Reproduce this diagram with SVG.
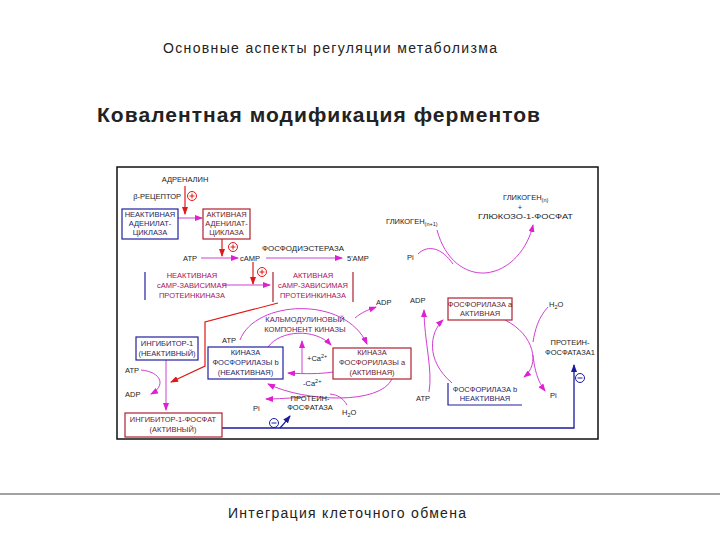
<svg xmlns="http://www.w3.org/2000/svg" width="720" height="540" viewBox="0 0 720 540">
<defs>
<marker id="am" markerWidth="8" markerHeight="6" refX="7" refY="3" orient="auto" markerUnits="userSpaceOnUse"><path d="M0,0 L8,3 L0,6 Z" fill="#e020d0"/></marker>
<marker id="ar" markerWidth="8" markerHeight="6" refX="7" refY="3" orient="auto" markerUnits="userSpaceOnUse"><path d="M0,0 L8,3 L0,6 Z" fill="#e01818"/></marker>
<marker id="ab" markerWidth="8" markerHeight="6" refX="7" refY="3" orient="auto" markerUnits="userSpaceOnUse"><path d="M0,0 L8,3 L0,6 Z" fill="#1a1aa0"/></marker>
</defs>
<style>
.t{font-family:"Liberation Sans",Arial,sans-serif;font-size:7.5px;fill:#222}
.c{text-anchor:middle}
.bt{fill:#25256a}
.rt{fill:#6a1a2a}
.pk{fill:#a8105a}
.cm{fill:#5a1a5a}
.bb{fill:#fff;stroke:#2020a0;stroke-width:1.2}
.rb{fill:#fff;stroke:#b02030;stroke-width:1.2}
.m{fill:none;stroke:#d040d0;stroke-width:1;marker-end:url(#am)}
.mn{fill:none;stroke:#d040d0;stroke-width:1}
.r{fill:none;stroke:#e01818;stroke-width:1.2}
.b{fill:none;stroke:#1a1aa0;stroke-width:1.3}
.title{font-family:"Liberation Sans",Arial,sans-serif;fill:#222}
</style>
<rect width="720" height="540" fill="#fff"/>
<text class="title" x="163" y="53" font-size="14" textLength="334">Основные аспекты регуляции метаболизма</text>
<text class="title" x="97" y="122" font-size="21" font-weight="bold" textLength="443">Ковалентная модификация ферментов</text>
<line x1="0" y1="494" x2="720" y2="494" stroke="#444" stroke-width="1"/>
<text class="title" x="228" y="518" font-size="14" textLength="238">Интеграция клеточного обмена</text>

<rect x="117" y="167" width="481" height="272" fill="#fff" stroke="#111" stroke-width="1.5"/>

<g id="connectors">
<path class="r" d="M185,186 V214" marker-end="url(#ar)"/>
<path class="m" d="M178,218 H202"/>
<path class="r" d="M222,239 V256" marker-end="url(#ar)"/>
<path class="m" d="M201,258 H238"/>
<path class="m" d="M266,258 H342"/>
<path class="r" d="M253,262 V284" marker-end="url(#ar)"/>
<path class="m" d="M222,285 H270"/>
<path class="r" d="M278,303 L205,322 V366 L171,382" marker-end="url(#ar)"/>
<path class="m" d="M437,230 C445,260 465,274 485,273 C510,271 528,248 533,225"/>
<path class="mn" d="M418,254 C428,244 442,248 453,264"/>
<path class="m" d="M240,340 C255,300 345,295 367,344"/>
<path class="m" d="M355,318 C362,312 368,310 376,307"/>
<path class="m" d="M268,347 C280,330 315,328 331,345"/>
<path class="m" d="M302,373 V341"/>
<path class="m" d="M333,372 C320,374 305,374 288,373"/>
<path class="m" d="M392,379 C380,405 305,402 268,384"/>
<path class="m" d="M305,397 C290,398 278,399 266,399"/>
<path class="mn" d="M347,405 C343,398 338,395 330,394"/>
<path class="m" d="M141,370 C162,372 166,386 151,394"/>
<path class="m" d="M166,360 V410"/>
<path class="b" d="M222,428 H574 V365" marker-end="url(#ab)"/>
<path class="b" d="M280,428 C284,424 286,421 290,416" marker-end="url(#ab)"/>
<path class="m" d="M452,383 C425,360 430,332 443,320"/>
<path class="m" d="M429,392 C433,370 424,340 424,310"/>
<path class="m" d="M505,320 C535,335 540,365 524,377"/>
<path class="mn" d="M548,307 C538,318 535,330 533,342"/>
<path class="m" d="M533,355 C535,375 540,384 545,391"/>
</g>

<g id="adrenalin"><text class="t c" x="185" y="182">АДРЕНАЛИН</text></g>
<g id="receptor"><text class="t" x="181" y="199" text-anchor="end">β-РЕЦЕПТОР</text>
<circle cx="192" cy="196" r="4.5" fill="none" stroke="#e01818"/><path d="M189.5,196 H194.5 M192,193.5 V198.5" stroke="#e01818"/></g>
<g id="ac-inactive"><rect class="bb" x="122" y="209" width="56" height="30"/>
<text class="t c bt" x="150" y="217">НЕАКТИВНАЯ</text><text class="t c bt" x="150" y="226">АДЕНИЛАТ-</text><text class="t c bt" x="150" y="235">ЦИКЛАЗА</text></g>
<g id="ac-active"><rect class="rb" x="203" y="209" width="47" height="30"/>
<text class="t c rt" x="226.5" y="217">АКТИВНАЯ</text><text class="t c rt" x="226.5" y="226">АДЕНИЛАТ-</text><text class="t c rt" x="226.5" y="235">ЦИКЛАЗА</text></g>
<g id="plus1"><circle cx="233" cy="247" r="4.5" fill="none" stroke="#e01818"/><path d="M230.5,247 H235.5 M233,244.5 V249.5" stroke="#e01818"/></g>
<g id="atp1"><text class="t" x="183" y="261">ATP</text></g>
<g id="camp"><text class="t" x="240" y="261">cAMP</text></g>
<g id="pde"><text class="t" x="262" y="251" textLength="82" lengthAdjust="spacingAndGlyphs">ФОСФОДИЭСТЕРАЗА</text></g>
<g id="amp"><text class="t" x="347" y="261">5'AMP</text></g>
<g id="plus2"><circle cx="262" cy="272" r="4.5" fill="none" stroke="#e01818"/><path d="M259.5,272 H264.5 M262,269.5 V274.5" stroke="#e01818"/></g>
<g id="pk-inactive"><line x1="145" y1="272" x2="145" y2="300" stroke="#2020a0" stroke-width="1.2"/>
<text class="t c pk" x="192" y="278">НЕАКТИВНАЯ</text><text class="t c pk" x="192" y="288">cAMP-ЗАВИСИМАЯ</text><text class="t c pk" x="192" y="298">ПРОТЕИНКИНАЗА</text></g>
<g id="pk-active"><path d="M273,272 V302 M353,272 V302" stroke="#b02030" stroke-width="1.2"/>
<text class="t c pk" x="313" y="278">АКТИВНАЯ</text><text class="t c pk" x="313" y="288">cAMP-ЗАВИСИМАЯ</text><text class="t c pk" x="313" y="298">ПРОТЕИНКИНАЗА</text></g>
<g id="calmodulin"><text class="t c cm" x="305" y="322">КАЛЬМОДУЛИНОВЫЙ</text><text class="t c cm" x="305" y="332">КОМПОНЕНТ КИНАЗЫ</text></g>
<g id="atp2"><text class="t" x="222" y="343">ATP</text></g>
<g id="adp2"><text class="t" x="376" y="305">ADP</text></g>
<g id="phk-b"><rect class="bb" x="208" y="347" width="75" height="32"/>
<text class="t c bt" x="245.5" y="355">КИНАЗА</text><text class="t c bt" x="245.5" y="365">ФОСФОРИЛАЗЫ b</text><text class="t c bt" x="245.5" y="375">(НЕАКТИВНАЯ)</text></g>
<g id="phk-a"><rect class="rb" x="333" y="348" width="78" height="31"/>
<text class="t c rt" x="372" y="355">КИНАЗА</text><text class="t c rt" x="372" y="365">ФОСФОРИЛАЗЫ a</text><text class="t c rt" x="372" y="375">(АКТИВНАЯ)</text></g>
<g id="ca-plus"><text class="t" x="307" y="361">+Ca<tspan dy="-3" font-size="5.5">2+</tspan></text></g>
<g id="ca-minus"><text class="t" x="303" y="386">-Ca<tspan dy="-3" font-size="5.5">2+</tspan></text></g>
<g id="pp1-mid"><text class="t c" x="310" y="401">ПРОТЕИН-</text><text class="t c" x="310" y="410">ФОСФАТАЗА</text></g>
<g id="h2o-mid"><text class="t" x="342" y="415">H<tspan dy="2" font-size="5.5">2</tspan><tspan dy="-2">O</tspan></text></g>
<g id="pi-mid"><text class="t" x="253" y="411">Pi</text></g>
<g id="minus-mid"><circle cx="274" cy="423" r="4.5" fill="none" stroke="#1a1aa0"/><path d="M271.5,423 H276.5" stroke="#1a1aa0"/></g>
<g id="inh-inactive"><rect class="bb" x="136" y="337" width="62" height="23"/>
<text class="t c bt" x="167" y="346">ИНГИБИТОР-1</text><text class="t c bt" x="167" y="356">(НЕАКТИВНЫЙ)</text></g>
<g id="atp3"><text class="t" x="125" y="373">ATP</text></g>
<g id="adp3"><text class="t" x="125" y="397">ADP</text></g>
<g id="inh-active"><rect class="rb" x="125" y="413" width="97" height="24"/>
<text class="t c rt" x="173" y="422">ИНГИБИТОР-1-ФОСФАТ</text><text class="t c rt" x="173" y="432">(АКТИВНЫЙ)</text></g>
<g id="glycogen-n1"><text class="t" x="386" y="224">ГЛИКОГЕН<tspan dy="2" font-size="5.5">(n+1)</tspan></text></g>
<g id="pi-top"><text class="t" x="407" y="260">Pi</text></g>
<g id="products"><text class="t" x="503" y="200">ГЛИКОГЕН<tspan dy="2" font-size="5.5">(n)</tspan></text>
<text class="t c" x="520" y="210" font-size="6">+</text>
<text class="t" x="478" y="219" textLength="95" lengthAdjust="spacingAndGlyphs">ГЛЮКОЗО-1-ФОСФАТ</text></g>
<g id="adp4"><text class="t" x="410" y="303">ADP</text></g>
<g id="phos-a"><rect class="rb" x="448" y="298" width="64" height="22"/>
<text class="t c rt" x="480" y="307">ФОСФОРИЛАЗА a</text><text class="t c rt" x="480" y="316">АКТИВНАЯ</text></g>
<g id="phos-b"><path d="M448,383 V405 H522" fill="none" stroke="#2020a0" stroke-width="1.2"/>
<text class="t c bt" x="485" y="392">ФОСФОРИЛАЗА b</text><text class="t c bt" x="485" y="401">НЕАКТИВНАЯ</text></g>
<g id="atp4"><text class="t" x="416" y="401">ATP</text></g>
<g id="h2o-right"><text class="t" x="549" y="307">H<tspan dy="2" font-size="5.5">2</tspan><tspan dy="-2">O</tspan></text></g>
<g id="pi-right"><text class="t" x="550" y="398">Pi</text></g>
<g id="pp1-right"><text class="t c" x="570" y="345">ПРОТЕИН-</text><text class="t c" x="570" y="355">ФОСФАТАЗА1</text></g>
<g id="minus-right"><circle cx="580" cy="378" r="4.5" fill="none" stroke="#1a1aa0"/><path d="M577.5,378 H582.5" stroke="#1a1aa0"/></g>
</svg>
